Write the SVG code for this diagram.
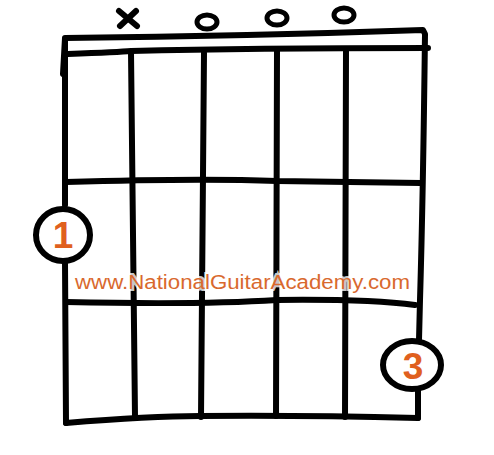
<svg xmlns="http://www.w3.org/2000/svg" width="494" height="455" viewBox="0 0 494 455">
<style>
.ln{fill:none;stroke:#000;stroke-width:6;stroke-linecap:round;stroke-linejoin:round}
.fg{fill:none;stroke:#000;stroke-width:5;stroke-linecap:round}
.num{font-family:"Liberation Sans",Arial,sans-serif;font-size:37px;font-weight:bold;fill:#e0601e;text-anchor:middle}
.url{font-family:"Liberation Sans",Arial,sans-serif;font-size:20px;fill:#d9692e;stroke:#fff;stroke-width:4;stroke-opacity:0.8;paint-order:stroke}
</style>
<rect width="494" height="455" fill="#fff"/>
<g id="markers">
<path class="fg" style="stroke-width:6" d="M119 11 L137 26 M136 11 L120 26"/>
<ellipse class="fg" cx="207" cy="22" rx="10" ry="7"/>
<ellipse class="fg" cx="277" cy="18" rx="10" ry="7"/>
<ellipse class="fg" cx="344" cy="15" rx="10" ry="7"/>
</g>
<g id="grid">
<path class="ln" d="M63 74 L65 38 Q250 36 423 30 L425 34 Q423 200 420 300 L419 340"/>
<path class="ln" d="M68 54 Q120 52 131 51 Q250 48 428 48"/>
<path class="ln" d="M65 40 L65 205"/>
<path class="ln" d="M65 262 L66 423"/>
<path class="ln" d="M418 389 L418 418"/>
<path class="ln" d="M131 52 Q133 230 135 417"/>
<path class="ln" d="M204 53 Q202 230 201 417"/>
<path class="ln" d="M277 51 Q276 230 276 416"/>
<path class="ln" d="M346 50 Q346 230 345 417"/>
<path class="ln" d="M66 182 Q200 178 277 181 Q360 182 421 183"/>
<path class="ln" d="M66 302 Q200 305 277 300 Q370 299 415 305"/>
<path class="ln" d="M66 423 Q150 416 200 416 Q300 415 418 418"/>
</g>
<g id="finger1">
<ellipse class="ln" cx="63" cy="235" rx="27" ry="26"/>
<text class="num" x="63" y="248">1</text>
</g>
<g id="finger3">
<ellipse class="ln" cx="412" cy="365" rx="29" ry="24"/>
<text class="num" x="413" y="379">3</text>
</g>
<g id="watermark">
<text class="url" x="75" y="289" textLength="335" lengthAdjust="spacingAndGlyphs">www.NationalGuitarAcademy.com</text>
</g>
</svg>
